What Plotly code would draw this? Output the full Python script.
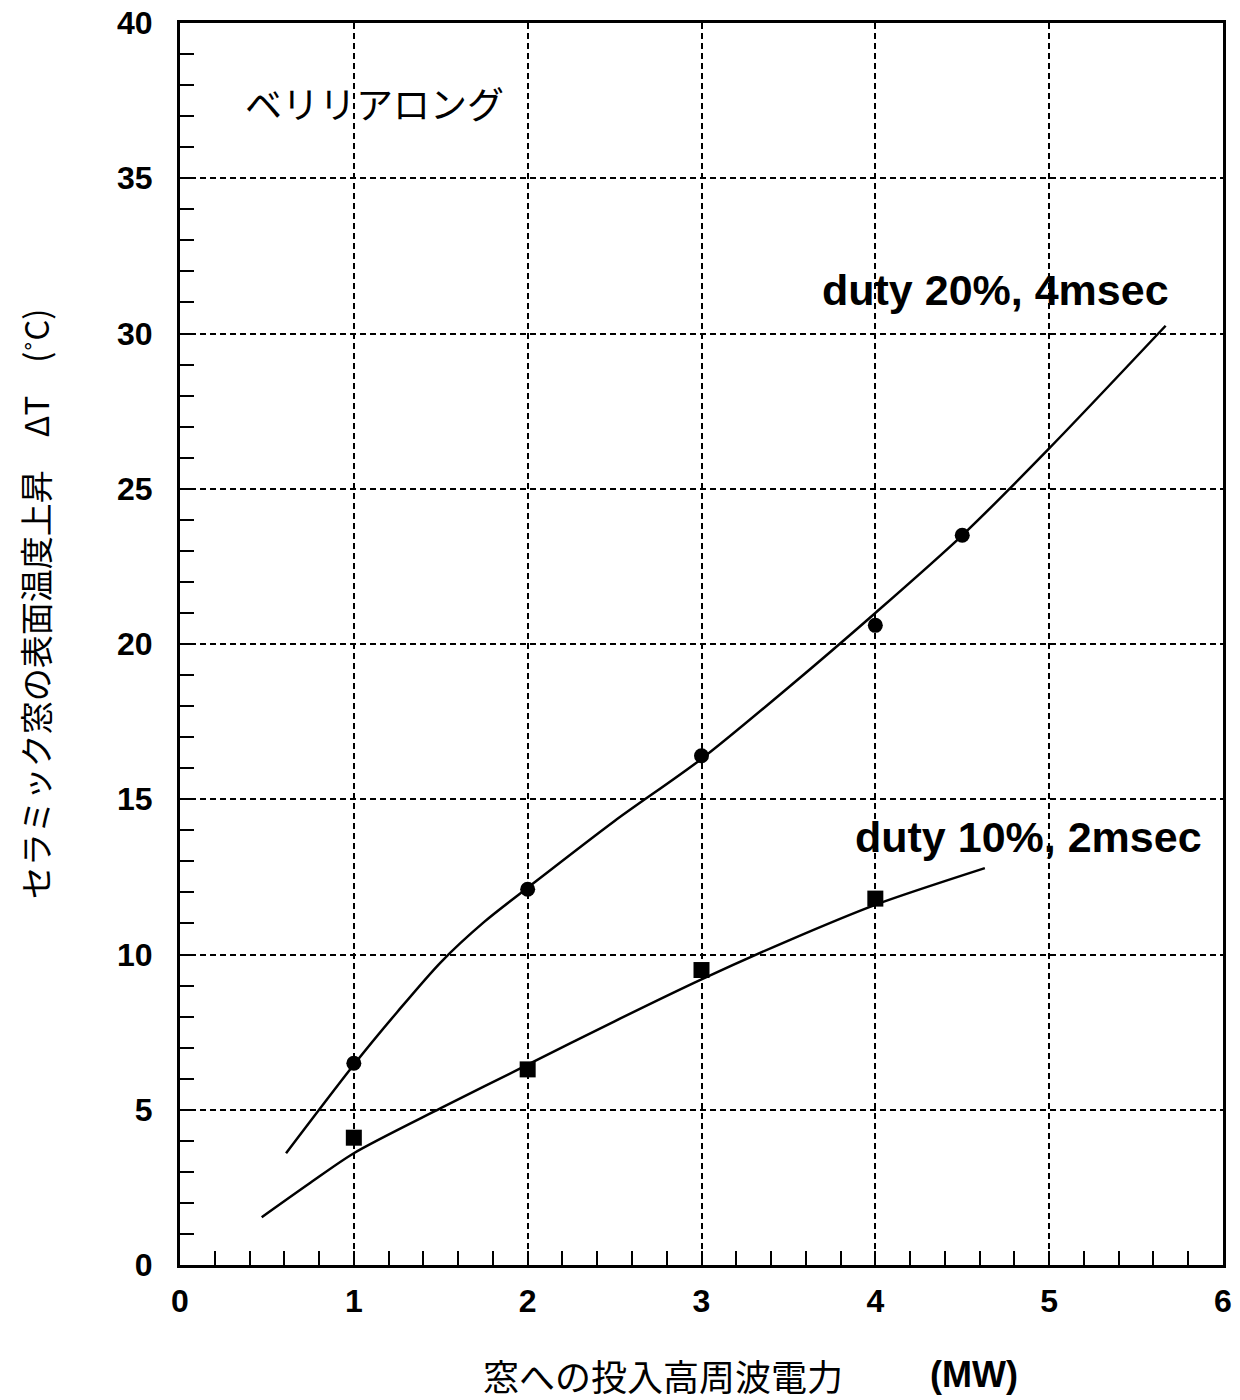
import plotly.graph_objects as go

# Measured points
power_20 = [1, 2, 3, 4, 4.5]
dT_20 = [6.5, 12.1, 16.4, 20.6, 23.5]
power_10 = [1, 2, 3, 4]
dT_10 = [4.1, 6.3, 9.5, 11.8]

# Fitted curves
fit20_x = [0.61, 1.0, 1.25, 1.5, 1.75, 2.0, 2.5, 3.0, 3.5, 4.0, 4.5, 5.0, 5.67]
fit20_y = [3.6, 6.45, 8.15, 9.75, 11.05, 12.15, 14.3, 16.3, 18.6, 21.0, 23.5, 26.3, 30.25]
fit10_x = [0.47, 0.75, 1.0, 1.5, 2.0, 2.5, 3.0, 3.5, 4.0, 4.63]
fit10_y = [1.54, 2.65, 3.6, 5.05, 6.45, 7.85, 9.2, 10.45, 11.6, 12.78]

x_ticks = [0, 1, 2, 3, 4, 5, 6]
y_ticks = [0, 5, 10, 15, 20, 25, 30, 35, 40]

fig = go.Figure()
fig.add_trace(go.Scatter(x=fit20_x, y=fit20_y, mode="lines",
                         line=dict(color="black", width=2.5, shape="spline", smoothing=0.8), showlegend=False))
fig.add_trace(go.Scatter(x=fit10_x, y=fit10_y, mode="lines",
                         line=dict(color="black", width=2.5, shape="spline", smoothing=0.8), showlegend=False))
fig.add_trace(go.Scatter(x=power_20, y=dT_20, mode="markers",
                         marker=dict(symbol="circle", size=15, color="black"), showlegend=False))
fig.add_trace(go.Scatter(x=power_10, y=dT_10, mode="markers",
                         marker=dict(symbol="square", size=16, color="black"), showlegend=False))

tickfont = dict(family="Liberation Sans", size=32, color="black")
common = dict(showgrid=True, gridcolor="black", gridwidth=1.5, griddash="6px,4px",
              showline=True, linecolor="black", linewidth=3, mirror=True,
              ticks="inside", ticklen=14, tickwidth=2, tickcolor="black",
              tickfont=tickfont, zeroline=False, automargin=False,
              ticklabeloverflow="allow")
fig.update_xaxes(range=[0, 6], tickvals=x_ticks, ticktext=["<b>%d</b>" % v for v in x_ticks],
                 minor=dict(dtick=0.2, ticks="inside", ticklen=14, tickwidth=2, tickcolor="black", showgrid=False),
                 ticklabelstandoff=6, **common)
fig.update_yaxes(range=[0, 40], tickvals=y_ticks, ticktext=["<b>%d</b>" % v for v in y_ticks],
                 minor=dict(dtick=1, ticks="inside", ticklen=14, tickwidth=2, tickcolor="black", showgrid=False),
                 ticklabelstandoff=18, **common)

# axis titles
fig.add_annotation(xref="paper", yref="paper", x=0, xshift=-145, y=0.532, xanchor="center", yanchor="middle",
                   text="セラミック窓の表面温度上昇　ΔT　(˚C)", textangle=-90, showarrow=False,
                   font=dict(family="Noto Sans CJK JP", size=33, color="black"))
fig.add_annotation(xref="paper", yref="paper", x=0.463, y=-0.0885, xanchor="center", yanchor="middle",
                   text="窓への投入高周波電力", showarrow=False,
                   font=dict(family="Noto Sans CJK JP", size=36, color="black"))
fig.add_annotation(xref="paper", yref="paper", x=0.761, y=-0.0885, xanchor="center", yanchor="middle",
                   text="<b>(MW)</b>", showarrow=False,
                   font=dict(family="Liberation Sans", size=36, color="black"))

fig.add_annotation(x=0.363, y=37.43, text="ベリリアロング", showarrow=False, xanchor="left",
                   font=dict(family="Noto Sans CJK JP", size=37, color="black"))
fig.add_annotation(x=3.68, y=31.4, text="<b>duty 20%, 4msec</b>", showarrow=False, xanchor="left",
                   font=dict(family="Liberation Sans", size=43, color="black"))
fig.add_annotation(x=3.87, y=13.8, text="<b>duty 10%, 2msec</b>", showarrow=False, xanchor="left",
                   font=dict(family="Liberation Sans", size=43, color="black"))

# page body has an 8px margin, so the figure is sized to fit inside the window
fig.update_layout(width=1232, height=1392, margin=dict(l=172, r=17, t=15, b=135),
                  plot_bgcolor="white", paper_bgcolor="white", showlegend=False)
fig.write_html("out.html")
